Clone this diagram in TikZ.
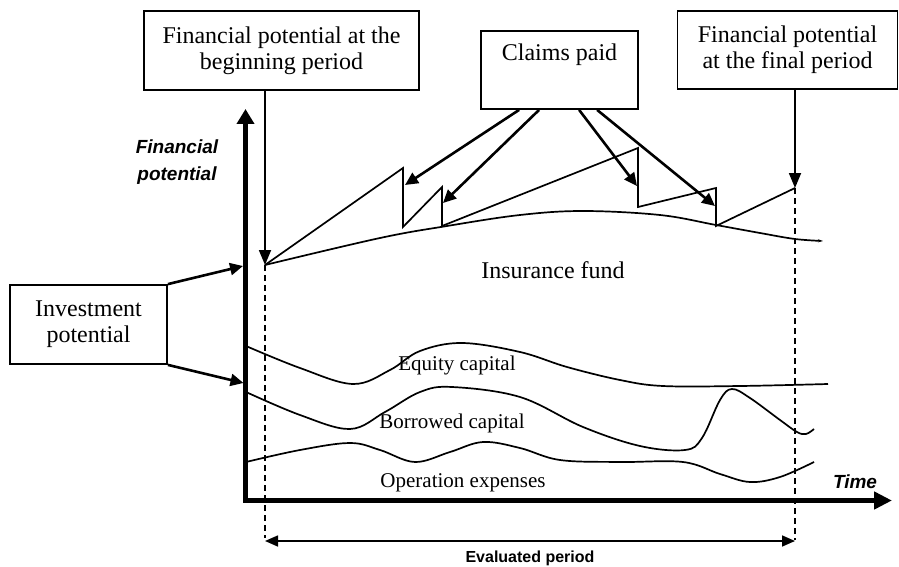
\documentclass[tikz,border=0pt]{standalone}
\usepackage{fontspec}
\setmainfont{Liberation Serif}
\newfontfamily\labsans{Liberation Sans}
\usetikzlibrary{arrows.meta,calc}
\tikzset{
  boxnode/.style={draw, line width=1.8pt, align=center, inner sep=0pt,
    font=\fontsize{24}{26}\selectfont},
  thinarrow/.style={line width=1.8pt, -{Triangle[length=15pt,width=12pt]}},
  claimarrow/.style={line width=2.6pt, -{Triangle[length=13pt,width=12pt]}},
  curve/.style={line width=1.7pt, smooth, tension=0.6},
  smalllab/.style={font=\fontsize{21}{23}\selectfont, inner sep=0pt},
  axislab/.style={font=\labsans\bfseries\itshape\fontsize{19}{27}\selectfont, align=center, inner sep=0pt},
  dashline/.style={line width=1.4pt, dash pattern=on 6pt off 4pt},
}
\begin{document}
\begin{tikzpicture}[x=1pt,y=-1pt]
\useasboundingbox[fill=white] (0,0) rectangle (899,567);

% boxes
\node[boxnode, minimum width=275pt, minimum height=79pt] (b1) at (281.5,50.5)
  {Financial potential at the\\beginning period};
\node[boxnode, minimum width=157pt, minimum height=78pt] (cl) at (559.5,70)
  {Claims paid\\[2pt]\strut};
\node[boxnode, minimum width=220pt, minimum height=78pt] (fin) at (787.5,50)
  {Financial potential\\at the final period};
\node[boxnode, minimum width=157pt, minimum height=79pt] (inv) at (88.5,324.5)
  {Investment\\potential};

% key points
\coordinate (P0) at (265,265);
\coordinate (PE) at (795,188);
\coordinate (O) at (245.5,500.5);
\coordinate (ytop) at (245.5,109);
\coordinate (xend) at (892,500.5);

% axes
\draw[line width=5pt, line join=miter,
  {Triangle[length=15pt,width=17pt]}-{Triangle[length=18pt,width=17pt]}]
  (ytop) -- (O) -- (xend);
\node[axislab] (ylab) at (177,162) {Financial\\potential};
\node[axislab] (xlab) at (855,482) {Time};

% curves
\draw[curve, -{Stealth[length=5pt,width=3pt]}] plot coordinates {(265,265) (380,238) (447,226) (520,215) (583,211) (660,215) (716,225) (760,233) (795,239) (823,241)};
\draw[curve] plot coordinates {(246,346) (300,368) (353,384) (390,370) (420,351) (462,343) (520,352) (567,367) (620,380) (663,386) (740,386) (828,384)};
\draw[curve] plot coordinates {(246,392) (300,415) (350,429) (385,412) (420,392) (452,387) (520,397) (583,427) (640,446) (685,450) (702,438) (720,400) (732,389) (750,398) (780,420) (797,432) (806,434) (814,429)};
\draw[curve] plot coordinates {(246,462) (300,450) (350,443) (380,450) (415,462) (450,452) (483,442) (520,448) (560,460) (620,462) (683,462) (720,474) (750,482) (780,477) (814,462)};

% sawtooth
\draw[line width=1.7pt, line join=miter] (P0) -- (403,168) -- (403,227) -- (442,187) -- (442,226)
  -- (638,148) -- (638,207) -- (716,188) -- (716,226) -- (PE);

% labels
\node[font=\fontsize{24}{26}\selectfont, inner sep=0pt] (insf) at (553,270) {Insurance fund};
\node[smalllab] (eq) at (457,365) {Equity capital};
\node[smalllab] (bor) at (452,423) {Borrowed capital};
\node[smalllab] (op) at (463,483) {Operation expenses};

% arrows from boxes
\draw[thinarrow] (b1.south -| P0) -- (P0);
\draw[thinarrow] (fin.south -| PE) -- (PE);
\coordinate (t1) at (405,185);
\coordinate (t2) at (443,203);
\coordinate (t3) at (637,186);
\coordinate (t4) at (715,206);
\draw[claimarrow] ([xshift=39pt]cl.south west) -- (t1);
\draw[claimarrow] ([xshift=59pt]cl.south west) -- (t2);
\draw[claimarrow] ([xshift=99pt]cl.south west) -- (t3);
\draw[claimarrow] ([xshift=117pt]cl.south west) -- (t4);
\coordinate (ya) at (243,266);
\coordinate (yb) at (243.5,383);
\draw[claimarrow] (inv.north east) -- (ya);
\draw[claimarrow] (inv.south east) -- (yb);

% evaluated period
\coordinate (eL) at (265,541);
\coordinate (eR) at (795,541);
\draw[dashline] (P0) -- (P0 |- 0,538);
\draw[dashline] (PE) -- (PE |- 0,540);
\draw[line width=1.6pt, {Triangle[length=13pt,width=11pt]}-{Triangle[length=13pt,width=11pt]}] (eL) -- (eR);
\node[font=\labsans\bfseries\fontsize{16}{18}\selectfont, inner sep=0pt] (evl) at (530,558) {Evaluated period};
\end{tikzpicture}
\end{document}
